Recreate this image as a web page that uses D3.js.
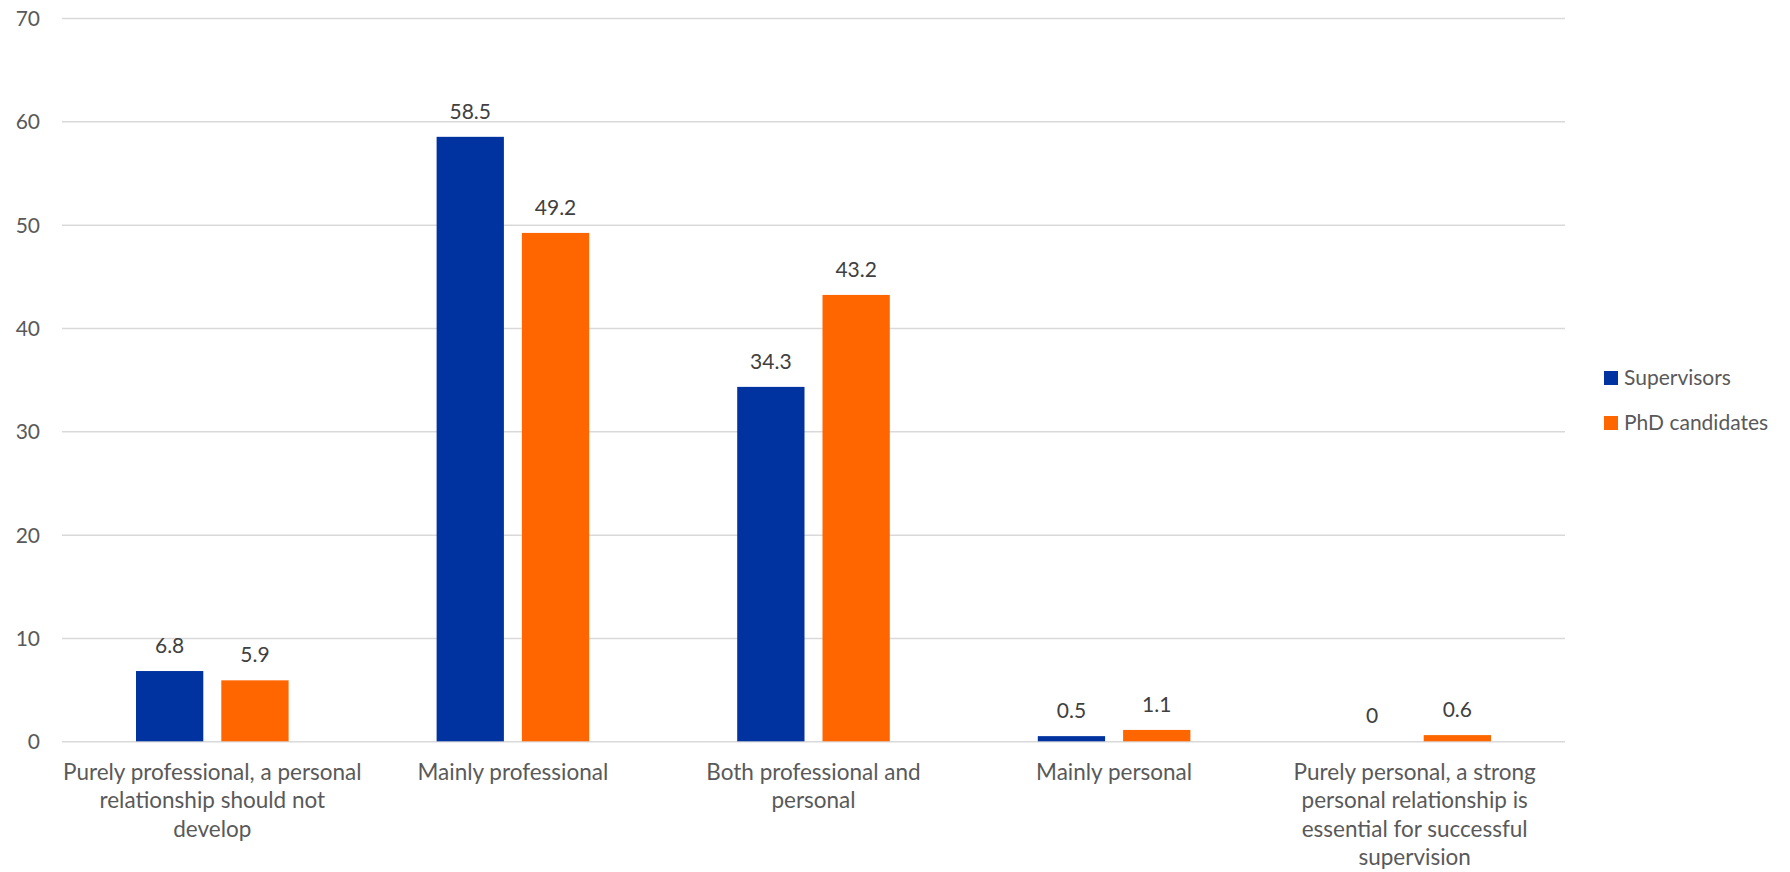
<!DOCTYPE html>
<html>
<head>
<meta charset="utf-8">
<script src="https://cdn.jsdelivr.net/npm/d3@7"></script>
<style>
  html, body { margin: 0; padding: 0; background: #ffffff; }
  svg { display: block; }
  text { font-family: Lato, "Liberation Sans", sans-serif; }
</style>
</head>
<body>
<svg id="chart" width="1790" height="872"></svg>
<script>
const categories = [
  "Purely professional, a personal\nrelationship should not\ndevelop",
  "Mainly professional",
  "Both professional and\npersonal",
  "Mainly personal",
  "Purely personal, a strong\npersonal relationship is\nessential for successful\nsupervision"
];
const seriesNames = ["Supervisors", "PhD candidates"];
const supervisors = [6.8, 58.5, 34.3, 0.5, 0];
const phdCandidates = [5.9, 49.2, 43.2, 1.1, 0.6];
const yTicks = [0, 10, 20, 30, 40, 50, 60, 70];
const colors = ["#0033A0", "#FF6600"];

const seriesValues = [supervisors, phdCandidates];
const rows = categories.map((c, i) => ({
  category: c,
  values: seriesNames.map((s, j) => ({ series: s, value: seriesValues[j][i], idx: j }))
}));

const svg = d3.select("#chart");
const plotLeft = 62, plotRight = 1565, plotTop = 18, plotBottom = 741.3;
const fontSize = 21;
const catFontSize = 22.5;

const y = d3.scaleLinear().domain([0, 70]).range([plotBottom, plotTop]);
const x0 = d3.scaleBand().domain(categories).range([plotLeft, plotRight])
  .paddingInner(0.4924).paddingOuter(0.2462);
const x1 = d3.scaleBand().domain(seriesNames).range([0, x0.bandwidth()])
  .paddingInner(0.211).paddingOuter(0);

// gridlines
const yAxis = d3.axisLeft(y).tickValues(yTicks).tickSize(-(plotRight - plotLeft)).tickPadding(22).tickFormat(d3.format("d"));
const gAxis = svg.append("g").attr("transform", `translate(${plotLeft},0)`).call(yAxis);
gAxis.select(".domain").remove();
gAxis.selectAll(".tick line").attr("stroke", "#d9d9d9").attr("stroke-width", 1.5);
gAxis.selectAll(".tick text").attr("fill", "#595959").attr("font-size", fontSize)
  .attr("font-family", "Lato, 'Liberation Sans', sans-serif").attr("dy", "0.35em");

// bars
const groups = svg.append("g").selectAll("g").data(rows).join("g")
  .attr("transform", d => `translate(${x0(d.category)},0)`);
groups.selectAll("rect").data(d => d.values).join("rect")
  .attr("x", d => x1(d.series))
  .attr("y", d => y(d.value))
  .attr("width", x1.bandwidth())
  .attr("height", d => y(0) - y(d.value))
  .attr("fill", d => colors[d.idx]);

// data labels
groups.selectAll("text.val").data(d => d.values).join("text")
  .attr("class", "val")
  .attr("x", d => x1(d.series) + x1.bandwidth() / 2)
  .attr("y", d => y(d.value) - 18)
  .attr("text-anchor", "middle")
  .attr("fill", "#404040")
  .attr("font-size", fontSize)
  .text(d => d.value);

// x category labels
const xAxis = svg.append("g");
categories.forEach(c => {
  const cx = x0(c) + x0.bandwidth() / 2;
  const t = xAxis.append("text")
    .attr("x", cx)
    .attr("y", 780)
    .attr("text-anchor", "middle")
    .attr("fill", "#595959")
    .attr("font-size", catFontSize);
  c.split("\n").forEach((line, i) => {
    t.append("tspan").attr("x", cx).attr("dy", i === 0 ? 0 : 28.3).text(line);
  });
});

// legend
const legend = svg.append("g").attr("transform", "translate(1604,371)");
seriesNames.forEach((s, i) => {
  const g = legend.append("g").attr("transform", `translate(0,${i * 45})`);
  g.append("rect").attr("width", 14).attr("height", 14).attr("fill", colors[i]);
  g.append("text").attr("x", 20).attr("y", 7).attr("dy", "0.35em")
    .attr("fill", "#595959").attr("font-size", fontSize).text(s);
});
</script>
</body>
</html>
